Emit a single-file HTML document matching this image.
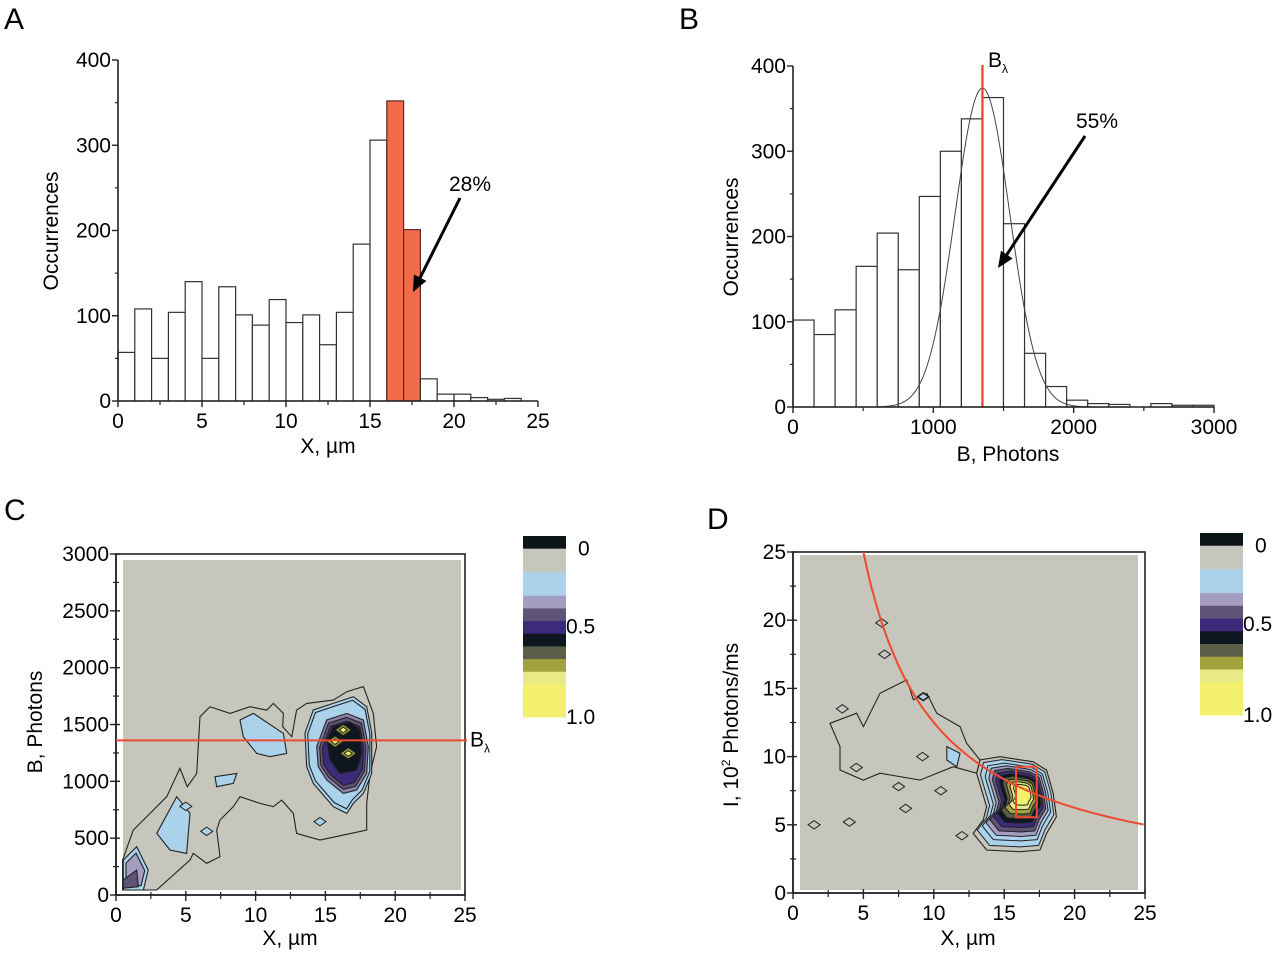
<!DOCTYPE html>
<html><head><meta charset="utf-8">
<style>
html,body{margin:0;padding:0;background:#fff;}
svg{display:block;font-family:"Liberation Sans",Arial,sans-serif;}
</style></head>
<body>
<svg id="fig" width="1280" height="953" viewBox="0 0 1280 953" xmlns="http://www.w3.org/2000/svg">
<text x="4" y="29" font-size="30">A</text>
<text x="679" y="29" font-size="30">B</text>
<text x="4" y="520" font-size="30">C</text>
<text x="707" y="529" font-size="30">D</text>
<g id="pa"></g>
<g id="pb"></g>
<g id="pc"></g>
<g id="pd"></g>
</svg>
<script>
// ---- Panel A data ----
const aBinStarts=[0,1,2,3,4,5,6,7,8,9,10,11,12,13,14,15,16,17,18,19,20,21,22,23];
const aCounts=[57,108,50,104,140,50,134,101,89,119,92,101,66,104,184,306,352,201,26,8,8,4,2,3];
const aHighlight=[16,17];
const aYTicks=[0,100,200,300,400];
const aXTicks=[0,5,10,15,20,25];
// ---- Panel B data ----
const bBinStarts=[0,150,300,450,600,750,900,1050,1200,1350,1500,1650,1800,1950,2100,2250,2400,2550,2700,2850];
const bCounts=[102,85,114,165,204,161,247,300,338,363,215,63,24,8,4,3,0,4,2,2];
const bFitPeak=[374], bFitMean=[1350], bFitSigma=[195];
const bLambda=[1350];
const bYTicks=[0,100,200,300,400];
const bXTicks=[0,1000,2000,3000];
// ---- Panel C data ----
const cXTicks=[0,5,10,15,20,25];
const cYTicks=[0,500,1000,1500,2000,2500,3000];
const cLambda=[1360];
const cOuter=[[0.47,308],[1.24,572],[2.44,718],[3.63,865],[4.58,1114],[5.11,953],[5.78,1070],[6.02,1569],[6.73,1657],[8.17,1598],[9.6,1657],[10.8,1627],[11.27,1686],[11.99,1598],[11.94,1481],[12.59,1393],[12.94,1627],[13.66,1686],[15.57,1715],[16.53,1789],[17.72,1833],[18.43,1598],[18.67,1305],[18.2,1070],[17.96,806],[17.96,572],[14.61,484],[12.94,542],[12.7,718],[11.87,835],[11.27,777],[10.32,806],[8.88,865],[8.4,777],[7.45,660],[7.21,572],[7.45,337],[6.5,279],[5.54,367],[5.3,308],[2.91,44],[0.47,44]];
const cBlueMain=[[13.54,1425],[14.13,1628],[15.56,1686],[17,1745],[17.96,1657],[18.32,1425],[18.32,1070],[17.72,894],[17,806],[16.53,718],[15.57,777],[14.13,982],[13.66,1129]];
const cPurple=[[14.38,1305],[15.09,1540],[16.53,1598],[17.72,1540],[18.07,1305],[17.96,1070],[17.24,924],[16.28,894],[15.09,1012],[14.49,1129]];
const cBlack=[[15.09,1364],[15.57,1481],[16.76,1525],[17.48,1452],[17.6,1246],[17.24,1100],[16.05,1070],[15.33,1188]];
const cBlue2=[[2.92,543],[4.35,865],[5.3,718],[5.06,366],[3.87,396]];
const cBlue3=[[8.88,1540],[9.84,1598],[11.99,1422],[12.23,1246],[11.03,1217],[10.08,1246],[9.12,1393]];
const cBlue4=[[7.09,1041],[8.65,1070],[8.4,982],[7.21,953]];
const cBlue5=[[0.52,308],[1.48,425],[2.31,220],[1.96,44],[0.52,44]];
const cPurple5=[[0.52,132],[1.48,220],[1.6,73],[0.52,60]];
const cBlueDots=[[14.61,645],[5.0,780],[6.5,560]];
const cYellowSpots=[[16.28,1452],[16.64,1246],[15.69,1349]];
// ---- Panel D data ----
const dXTicks=[0,5,10,15,20,25];
const dYTicks=[0,5,10,15,20,25];
const dCurveK=[125];
const dOuterBlob=[[13.05,8.77],[13.28,9.75],[14.7,9.99],[17.06,9.62],[18.01,9.01],[18.48,7.3],[18.71,5.59],[18.01,4.37],[17.54,3.15],[16.12,3.03],[13.75,3.15],[12.8,4.37],[13.51,5.35],[13.75,6.33]];
const dScatter=[[2.63,12.44],[4.52,13.18],[5,12.19],[6.18,14.64],[8.08,15.62],[8.55,14.17],[9.5,14.64],[10.21,13.18],[11.86,12.2],[12.34,10.97],[13.28,9.75],[13.05,8.78],[11.38,9.26],[9.02,8.28],[6.18,8.78],[4.99,8.28],[3.34,9.02],[3.34,10.73]];
const dBlue2=[[10.92,10.73],[11.86,10.24],[11.63,9.26],[10.92,9.75]];
const dSmall=[[9.25,14.39],[6.3,19.8],[6.5,17.5],[3.5,13.5],[4.5,9.2],[7.5,7.8],[9.2,10.0],[8.0,6.2],[1.5,5.0],[4.0,5.2],[12,4.2],[10.5,7.5]];
const dRect=[15.84,17.31,5.55,9.26];
const barLevels=[0,0.07,0.2,0.33,0.4,0.47,0.54,0.61,0.68,0.75,0.82,1.0];
const barColors=['#0d1518','#c6c6bd','#aad3eb','#a59ec0','#5f5478','#3b2b7a','#0e1620','#5b5f48','#a2a33f','#e8ea88','#f2f06c'];

const FS=21;
const NS='http://www.w3.org/2000/svg';
function el(parent,tag,attrs){const e=document.createElementNS(NS,tag);for(const k in attrs)e.setAttribute(k,attrs[k]);parent.appendChild(e);return e;}
function txt(parent,x,y,s,size,anchor){const t=el(parent,'text',{x:x,y:y,'font-size':size,'text-anchor':anchor||'middle'});t.textContent=s;return t;}
function lin(d0,d1,p0,p1){return v=>p0+(v-d0)*(p1-p0)/(d1-d0);}

function axes(g,sx,sy,xt,yt,x0,x1,y0,y1,xmin,ymin,opts){
  const ya=el(g,'line',{x1:sx(xmin),y1:sy(y0),x2:sx(xmin),y2:sy(y1),stroke:'#222','stroke-width':1.6});
  
  const xa=el(g,'line',{x1:sx(x0),y1:sy(ymin),x2:sx(x1),y2:sy(ymin),stroke:'#222','stroke-width':1.6});
  
  yt.forEach((v,i)=>{const y=sy(v);el(g,'line',{x1:sx(xmin)-6,y1:y,x2:sx(xmin)+(opts.cross?4:0),y2:y,stroke:'#222','stroke-width':1.4});
    const t=txt(g,sx(xmin)-7,y+7,String(v),FS,'end');
    if(i<yt.length-1){const m=sy((v+yt[i+1])/2);el(g,'line',{x1:sx(xmin)-3,y1:m,x2:sx(xmin)+(opts.cross?3:0),y2:m,stroke:'#222','stroke-width':1.2});}});
  xt.forEach((v,i)=>{const x=sx(v);el(g,'line',{x1:x,y1:sy(ymin)-(opts.cross?4:0),x2:x,y2:sy(ymin)+6,stroke:'#222','stroke-width':1.4});
    const t=txt(g,x,sy(ymin)+27,String(v),FS);
    if(i<xt.length-1){const m=sx((v+xt[i+1])/2);el(g,'line',{x1:m,y1:sy(ymin)-(opts.cross?3:0),x2:m,y2:sy(ymin)+4,stroke:'#222','stroke-width':1.2});}});
}
function arrow(g,x1,y1,x2,y2){
  const a=Math.atan2(y2-y1,x2-x1),L=16,W=7;
  const bx=x2-L*Math.cos(a),by=y2-L*Math.sin(a);
  el(g,'line',{x1:x1,y1:y1,x2:bx,y2:by,stroke:'#000','stroke-width':3});
  el(g,'polygon',{points:`${x2},${y2} ${bx+W*Math.sin(a)},${by-W*Math.cos(a)} ${bx-W*Math.sin(a)},${by+W*Math.cos(a)}`,fill:'#000'});
}

// ===== Panel A =====
(function(){
const g=document.getElementById('pa');
const sx=lin(0,25,118,538), sy=lin(0,400,401,60);
aBinStarts.forEach((b,i)=>{
  const hi=aHighlight.includes(b);
  const r=el(g,'rect',{x:sx(b),y:sy(aCounts[i]),width:sx(b+1)-sx(b),height:sy(0)-sy(aCounts[i]),fill:hi?'#f46b4c':'#fff',stroke:hi?'#5a2a20':'#333','stroke-width':1.2});
  
  
});
axes(g,sx,sy,aXTicks,aYTicks,0,25,0,400,0,0,{cross:false});
const t1=txt(g,328,453,'X, µm',FS);
const t2=txt(g,0,0,'Occurrences',FS);t2.setAttribute('transform','translate(58,231) rotate(-90)');
const t3=txt(g,470,191,'28%',FS);
arrow(g,460,198,413,292);
})();

// ===== Panel B =====
(function(){
const g=document.getElementById('pb');
const sx=lin(0,3000,793,1214), sy=lin(0,400,407,66);
bBinStarts.forEach((b,i)=>{
  const r=el(g,'rect',{x:sx(b),y:sy(bCounts[i]),width:sx(b+150)-sx(b),height:sy(0)-sy(bCounts[i]),fill:'#fff',stroke:'#333','stroke-width':1.2});
  
  
});
let d='';for(let v=600;v<=2150;v+=10){const y=bFitPeak[0]*Math.exp(-Math.pow(v-bFitMean[0],2)/(2*bFitSigma[0]*bFitSigma[0]));d+=(d?'L':'M')+sx(v).toFixed(1)+','+sy(y).toFixed(1);}
const fit=el(g,'path',{d:d,fill:'none',stroke:'#444','stroke-width':1});

const rl=el(g,'line',{x1:sx(bLambda[0]),y1:sy(0),x2:sx(bLambda[0]),y2:65,stroke:'#e8432a','stroke-width':2.2});

axes(g,sx,sy,bXTicks,bYTicks,0,3000,0,400,0,0,{cross:false});
const lb=el(g,'text',{x:988,y:67,'font-size':FS});lb.innerHTML='B<tspan font-size="12" dy="6">λ</tspan>';
const t1=txt(g,1008,461,'B, Photons',FS);
const t2=txt(g,0,0,'Occurrences',FS);t2.setAttribute('transform','translate(738,237) rotate(-90)');
const t3=txt(g,1097,128,'55%',FS);
arrow(g,1085,136,998,268);
})();

function colorbar(g,x,yTop,yBot,labelX){
  const sy=lin(0,1,yTop,yBot);
  barColors.forEach((c,i)=>{const r=el(g,'rect',{x:x,y:sy(barLevels[i]),width:43,height:sy(barLevels[i+1])-sy(barLevels[i])+0.5,fill:c});
    });
  [['0',0.07],['0.5',0.5],['1.0',1.0]].forEach(p=>{const t=txt(g,labelX+(p[0]==='0'?12:0),sy(p[1])+7,p[0],FS,'start');});
}
function poly(g,pts,sx,sy,fill,name,sw){
  const p=el(g,'polygon',{points:pts.map(q=>sx(q[0]).toFixed(1)+','+sy(q[1]).toFixed(1)).join(' '),fill:fill,stroke:'#222','stroke-width':sw||1.1});
  return p;
}
function shrink(pts,cx,cy,f){return pts.map(q=>[cx+(q[0]-cx)*f,cy+(q[1]-cy)*f]);}
function diamond(g,x,y,r,fill){el(g,'polygon',{points:`${x-r},${y} ${x},${y-r*0.7} ${x+r},${y} ${x},${y+r*0.7}`,fill:fill,stroke:'#222','stroke-width':1});}

// ===== Panel C =====
(function(){
const g=document.getElementById('pc');
const sx=lin(0,25,116,465), sy=lin(0,3000,895,554);
el(g,'rect',{x:116,y:554,width:349,height:341,fill:'#fff',stroke:'#222','stroke-width':1.6});
const bg=el(g,'rect',{x:123,y:560,width:338,height:330,fill:'#c6c6bd'});

poly(g,cOuter,sx,sy,'#c6c6bd','contour-outer');
poly(g,cBlueMain,sx,sy,'#aad3eb','contour-blue');
poly(g,shrink(cBlueMain,16.3,1300,0.93),sx,sy,'#aad3eb','contour-blue-inner');
poly(g,cPurple,sx,sy,'#8c80ac','contour-lavender');
poly(g,shrink(cPurple,16.4,1250,0.9),sx,sy,'#5f5478','contour-purple');
poly(g,shrink(cPurple,16.4,1250,0.8),sx,sy,'#3b2b7a','contour-indigo');
poly(g,cBlack,sx,sy,'#0e1620','contour-black');
cYellowSpots.forEach(q=>{diamond(g,sx(q[0]),sy(q[1]),8,'#a2a33f');diamond(g,sx(q[0]),sy(q[1]),4,'#f2f06c');});
poly(g,cBlue2,sx,sy,'#aad3eb','contour-blue');
poly(g,cBlue3,sx,sy,'#aad3eb','contour-blue');
poly(g,cBlue4,sx,sy,'#aad3eb','contour-blue');
poly(g,cBlue5,sx,sy,'#aad3eb','contour-blue');
poly(g,shrink(cBlue5,1.3,200,0.75),sx,sy,'#a59ec0','contour-lavender');
poly(g,cPurple5,sx,sy,'#5f5478','contour-purple');
cBlueDots.forEach(q=>diamond(g,sx(q[0]),sy(q[1]),6,'#aad3eb'));
axes(g,sx,sy,cXTicks,cYTicks,0,25,0,3000,0,0,{cross:true});
const rl=el(g,'line',{x1:116,y1:sy(cLambda[0]),x2:467,y2:sy(cLambda[0]),stroke:'#ee4a30','stroke-width':2});

const lb=el(g,'text',{x:470,y:sy(cLambda[0])+6,'font-size':FS});lb.innerHTML='B<tspan font-size="12" dy="6">λ</tspan>';
const t1=txt(g,290,945,'X, µm',FS);
const t2=txt(g,0,0,'B, Photons',FS);t2.setAttribute('transform','translate(42,722) rotate(-90)');
colorbar(g,523,536,717,566);
})();

// ===== Panel D =====
(function(){
const g=document.getElementById('pd');
const sx=lin(0,25,793,1145), sy=lin(0,25,893,552);
el(g,'rect',{x:793,y:552,width:352,height:341,fill:'#fff',stroke:'#222','stroke-width':1.6});
const bg=el(g,'rect',{x:800,y:555,width:338,height:335,fill:'#c6c6bd'});

poly(g,dScatter,sx,sy,'#c6c6bd','contour-outer');
poly(g,dBlue2,sx,sy,'#aad3eb','contour-blue');
dSmall.forEach(q=>diamond(g,sx(q[0]),sy(q[1]),6,'#c6c6bd'));
diamond(g,sx(9.25),sy(14.39),5,'#aad3eb');
poly(g,dOuterBlob,sx,sy,'#c6c6bd','contour-outer-blob');
const fills=['#aad3eb','#aad3eb','#a59ec0','#5f5478','#3b2b7a','#0e1620','#5b5f48','#a2a33f','#e8ea88','#f2f06c'];
fills.forEach((c,i)=>poly(g,shrink(dOuterBlob,16.4,7.4,(i===0?0.92:0.82)-(i>0?(i-1)*0.075:0)),sx,sy,c,'contour-level',1));
const rr=el(g,'rect',{x:sx(dRect[0]),y:sy(dRect[3]),width:sx(dRect[1])-sx(dRect[0]),height:sy(dRect[2])-sy(dRect[3]),fill:'none',stroke:'#ee4a30','stroke-width':2});

let d='';for(let x=dCurveK[0]/25;x<=25;x+=0.1){d+=(d?'L':'M')+sx(x).toFixed(1)+','+sy(dCurveK[0]/x).toFixed(1);}
const cv=el(g,'path',{d:d,fill:'none',stroke:'#ee4a30','stroke-width':2});

axes(g,sx,sy,dXTicks,dYTicks,0,25,0,25,0,0,{cross:true});
const t1=txt(g,968,945,'X, µm',FS);
const t2=el(g,'text',{'font-size':FS,'text-anchor':'middle',transform:'translate(738,725) rotate(-90)'});t2.innerHTML='I, 10<tspan font-size="12" dy="-8">2</tspan><tspan dy="8"> Photons/ms</tspan>';

colorbar(g,1200,533,715,1243);
})();
</script>
</body></html>
